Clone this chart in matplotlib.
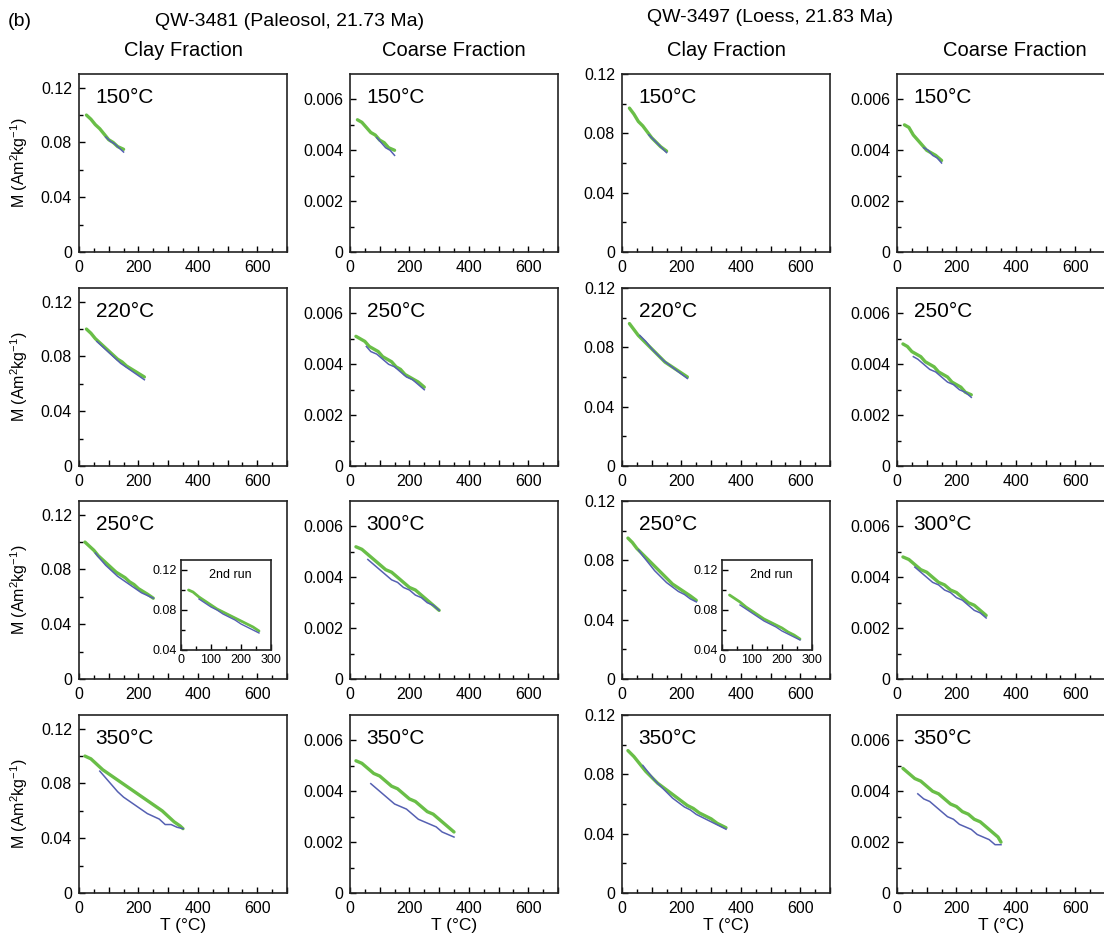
"""
Thermomagnetic M-T curves, clay vs coarse fraction, QW-3481 and QW-3497.
"""

import matplotlib

matplotlib.use("Agg")
import matplotlib.pyplot as plt

plt.rcParams["font.family"] = ["Liberation Sans", "DejaVu Sans"]
plt.rcParams["mathtext.fontset"] = "custom"
plt.rcParams["mathtext.rm"] = "Liberation Sans"
plt.rcParams["mathtext.it"] = "Liberation Sans"

GREEN = "#69be47"
BLUE = "#5560b2"

# temperature steps (degC), heating and cooling
T_H150 = [25, 40, 55, 70, 85, 100, 115, 130, 150]
T_C150 = [150, 135, 120, 105, 90]
T_H220 = [25, 40, 55, 70, 85, 100, 115, 130, 145, 160, 175, 190, 205, 220]
T_C220 = [220, 200, 180, 160, 140, 120, 100, 80, 60]
T_H250 = [20, 35, 50, 65, 80, 95, 110, 125, 140, 155, 170, 185, 200, 215, 230, 250]
T_C250 = [250, 230, 210, 190, 170, 150, 130, 110, 90, 70, 55]
T_H300 = [20, 40, 60, 80, 100, 120, 140, 160, 180, 200, 220, 240, 260, 280, 300]
T_C300 = [300, 280, 260, 240, 220, 200, 180, 160, 140, 120, 100, 80, 60]
T_H350 = [20, 40, 60, 80, 100, 120, 140, 160, 180, 200, 220, 240, 260, 280, 300, 320, 340, 350]
T_C350 = [350, 330, 310, 290, 270, 250, 230, 210, 190, 170, 150, 130, 110, 90, 70]
T_IH = [25, 40, 60, 80, 100, 120, 140, 160, 180, 200, 220, 240, 260]
T_IC = [260, 240, 220, 200, 180, 160, 140, 120, 100, 80, 60]

# QW-3481 clay fraction (Am2/kg)
A_CLAY_150_H = [0.100, 0.097, 0.093, 0.090, 0.086, 0.082, 0.080, 0.077, 0.075]
A_CLAY_150_C = [0.073, 0.076, 0.079, 0.081, 0.084]
A_CLAY_220_H = [0.100, 0.097, 0.093, 0.090, 0.087, 0.084, 0.081, 0.078, 0.076, 0.073, 0.071, 0.069, 0.067, 0.065]
A_CLAY_220_C = [0.063, 0.066, 0.069, 0.072, 0.075, 0.079, 0.083, 0.087, 0.091]
A_CLAY_250_H = [0.100, 0.097, 0.094, 0.090, 0.087, 0.084, 0.081, 0.078, 0.076, 0.074, 0.071, 0.069, 0.066, 0.064, 0.062, 0.059]
A_CLAY_250_C = [0.059, 0.061, 0.063, 0.066, 0.069, 0.072, 0.075, 0.079, 0.083, 0.088, 0.092]
A_CLAY_350_H = [0.100, 0.098, 0.094, 0.090, 0.087, 0.084, 0.081, 0.078, 0.075, 0.072, 0.069, 0.066, 0.063, 0.060, 0.056, 0.052, 0.049, 0.047]
A_CLAY_350_C = [0.047, 0.048, 0.050, 0.050, 0.054, 0.056, 0.058, 0.061, 0.064, 0.067, 0.070, 0.074, 0.079, 0.084, 0.089]
A_RUN2_H = [0.100, 0.098, 0.093, 0.089, 0.085, 0.081, 0.078, 0.075, 0.072, 0.069, 0.066, 0.063, 0.059]
A_RUN2_C = [0.057, 0.060, 0.063, 0.066, 0.070, 0.073, 0.076, 0.080, 0.083, 0.087, 0.091]

# QW-3481 coarse fraction
A_COARSE_150_H = [0.0052, 0.0051, 0.0049, 0.0047, 0.0046, 0.0044, 0.0043, 0.0041, 0.0040]
A_COARSE_150_C = [0.0038, 0.0040, 0.0041, 0.0043, 0.0045]
A_COARSE_250_H = [0.0051, 0.0050, 0.0049, 0.0047, 0.0046, 0.0045, 0.0043, 0.0042, 0.0041, 0.0039, 0.0038, 0.0036, 0.0035, 0.0034, 0.0033, 0.0031]
A_COARSE_250_C = [0.0030, 0.0032, 0.0034, 0.0035, 0.0037, 0.0039, 0.0040, 0.0042, 0.0044, 0.0045, 0.0047]
A_COARSE_300_H = [0.0052, 0.0051, 0.0049, 0.0047, 0.0045, 0.0043, 0.0042, 0.0040, 0.0038, 0.0036, 0.0035, 0.0033, 0.0031, 0.0029, 0.0027]
A_COARSE_300_C = [0.0027, 0.0029, 0.0030, 0.0032, 0.0033, 0.0035, 0.0036, 0.0038, 0.0039, 0.0041, 0.0043, 0.0045, 0.0047]
A_COARSE_350_H = [0.0052, 0.0051, 0.0049, 0.0047, 0.0046, 0.0044, 0.0042, 0.0041, 0.0039, 0.0037, 0.0036, 0.0034, 0.0032, 0.0031, 0.0029, 0.0027, 0.0025, 0.0024]
A_COARSE_350_C = [0.0022, 0.0023, 0.0024, 0.0026, 0.0027, 0.0028, 0.0029, 0.0031, 0.0033, 0.0034, 0.0035, 0.0037, 0.0039, 0.0041, 0.0043]

# QW-3497 clay fraction
B_CLAY_150_H = [0.097, 0.093, 0.088, 0.085, 0.081, 0.077, 0.074, 0.071, 0.068]
B_CLAY_150_C = [0.067, 0.070, 0.073, 0.076, 0.079]
B_CLAY_220_H = [0.096, 0.092, 0.088, 0.085, 0.082, 0.079, 0.076, 0.073, 0.070, 0.068, 0.066, 0.064, 0.062, 0.060]
B_CLAY_220_C = [0.059, 0.062, 0.065, 0.068, 0.071, 0.075, 0.079, 0.084, 0.088]
B_CLAY_250_H = [0.095, 0.092, 0.088, 0.085, 0.082, 0.079, 0.076, 0.073, 0.070, 0.067, 0.064, 0.062, 0.060, 0.058, 0.056, 0.053]
B_CLAY_250_C = [0.052, 0.054, 0.057, 0.059, 0.062, 0.065, 0.069, 0.073, 0.078, 0.083, 0.087]
B_CLAY_350_H = [0.096, 0.092, 0.087, 0.082, 0.078, 0.074, 0.071, 0.068, 0.065, 0.062, 0.059, 0.057, 0.054, 0.052, 0.050, 0.047, 0.045, 0.044]
B_CLAY_350_C = [0.043, 0.045, 0.047, 0.049, 0.051, 0.053, 0.056, 0.058, 0.061, 0.064, 0.068, 0.072, 0.076, 0.081, 0.086]
B_RUN2_H = [0.095, 0.092, 0.088, 0.083, 0.079, 0.075, 0.071, 0.068, 0.065, 0.062, 0.058, 0.055, 0.051]
B_RUN2_C = [0.050, 0.053, 0.056, 0.059, 0.063, 0.066, 0.069, 0.073, 0.077, 0.081, 0.085]

# QW-3497 coarse fraction
B_COARSE_150_H = [0.0050, 0.0049, 0.0046, 0.0044, 0.0042, 0.0040, 0.0039, 0.0038, 0.0036]
B_COARSE_150_C = [0.0035, 0.0037, 0.0038, 0.0040, 0.0041]
B_COARSE_250_H = [0.0048, 0.0047, 0.0045, 0.0044, 0.0043, 0.0041, 0.0040, 0.0039, 0.0037, 0.0036, 0.0035, 0.0033, 0.0032, 0.0031, 0.0029, 0.0028]
B_COARSE_250_C = [0.0027, 0.0029, 0.0030, 0.0032, 0.0033, 0.0035, 0.0037, 0.0038, 0.0040, 0.0042, 0.0043]
B_COARSE_300_H = [0.0048, 0.0047, 0.0045, 0.0043, 0.0042, 0.0040, 0.0038, 0.0037, 0.0035, 0.0034, 0.0032, 0.0030, 0.0029, 0.0027, 0.0025]
B_COARSE_300_C = [0.0024, 0.0026, 0.0027, 0.0029, 0.0031, 0.0032, 0.0034, 0.0035, 0.0037, 0.0038, 0.0040, 0.0042, 0.0044]
B_COARSE_350_H = [0.0049, 0.0047, 0.0045, 0.0044, 0.0042, 0.0040, 0.0039, 0.0037, 0.0035, 0.0034, 0.0032, 0.0031, 0.0029, 0.0028, 0.0026, 0.0024, 0.0022, 0.0020]
B_COARSE_350_C = [0.0019, 0.0019, 0.0021, 0.0022, 0.0023, 0.0025, 0.0026, 0.0027, 0.0029, 0.0030, 0.0032, 0.0034, 0.0036, 0.0037, 0.0039]

CLAY_TICKS = [0, 0.04, 0.08, 0.12]
CLAY_LABELS = ["0", "0.04", "0.08", "0.12"]
COARSE_TICKS = [0, 0.002, 0.004, 0.006]
COARSE_LABELS = ["0", "0.002", "0.004", "0.006"]
T_TICKS = [0, 200, 400, 600]

W, H = 1104, 939
COL_LEFT = [79, 350, 622, 897]
ROW_TOP = [74, 288, 501, 715]
PANEL_W, PANEL_H = 208, 178


def px_axes(fig, left, top, w, h):
    return fig.add_axes([left / W, 1 - (top + h) / H, w / W, h / H])


def finish_spines(ax):
    for sp in ax.spines.values():
        sp.set_linewidth(1.2)
        sp.set_color("#222222")


def style_panel(ax, yticks, ylabels, ymax, yminor):
    ax.set_xlim(0, 700)
    ax.set_ylim(0, ymax)
    major = list(range(0, 701, 100))
    ax.set_xticks(major)
    ax.set_xticklabels([str(t) if t in T_TICKS else "" for t in major])
    ax.set_xticks(list(range(50, 700, 100)), minor=True)
    ax.set_yticks(yticks)
    ax.set_yticklabels(ylabels)
    ax.set_yticks(yminor, minor=True)
    ax.tick_params(which="both", direction="in", labelsize=11.5, width=1.0)
    ax.tick_params(axis="x", pad=6)
    ax.tick_params(axis="y", pad=5)
    ax.tick_params(which="major", length=4)
    ax.tick_params(which="minor", length=3)
    finish_spines(ax)


def draw(ax, th, mh, tc, mc, lw_g=2.4, lw_b=1.1):
    ax.plot(th, mh, color=GREEN, lw=lw_g, solid_capstyle="round")
    ax.plot(tc, mc, color=BLUE, lw=lw_b)


fig = plt.figure(figsize=(W / 100, H / 100), dpi=100)

panels = [
    [("150", T_H150, A_CLAY_150_H, T_C150, A_CLAY_150_C),
     ("150", T_H150, A_COARSE_150_H, T_C150, A_COARSE_150_C),
     ("150", T_H150, B_CLAY_150_H, T_C150, B_CLAY_150_C),
     ("150", T_H150, B_COARSE_150_H, T_C150, B_COARSE_150_C)],
    [("220", T_H220, A_CLAY_220_H, T_C220, A_CLAY_220_C),
     ("250", T_H250, A_COARSE_250_H, T_C250, A_COARSE_250_C),
     ("220", T_H220, B_CLAY_220_H, T_C220, B_CLAY_220_C),
     ("250", T_H250, B_COARSE_250_H, T_C250, B_COARSE_250_C)],
    [("250", T_H250, A_CLAY_250_H, T_C250, A_CLAY_250_C),
     ("300", T_H300, A_COARSE_300_H, T_C300, A_COARSE_300_C),
     ("250", T_H250, B_CLAY_250_H, T_C250, B_CLAY_250_C),
     ("300", T_H300, B_COARSE_300_H, T_C300, B_COARSE_300_C)],
    [("350", T_H350, A_CLAY_350_H, T_C350, A_CLAY_350_C),
     ("350", T_H350, A_COARSE_350_H, T_C350, A_COARSE_350_C),
     ("350", T_H350, B_CLAY_350_H, T_C350, B_CLAY_350_C),
     ("350", T_H350, B_COARSE_350_H, T_C350, B_COARSE_350_C)],
]

for r, row in enumerate(panels):
    for c, (label, th, mh, tc, mc) in enumerate(row):
        ax = px_axes(fig, COL_LEFT[c], ROW_TOP[r], PANEL_W, PANEL_H)
        if c == 0:
            style_panel(ax, CLAY_TICKS, CLAY_LABELS, 0.13, [0.02, 0.06, 0.10])
        elif c == 2:
            style_panel(ax, CLAY_TICKS, CLAY_LABELS, 0.12, [0.02, 0.06, 0.10])
        else:
            style_panel(ax, COARSE_TICKS, COARSE_LABELS, 0.007, [0.001, 0.003, 0.005])
        draw(ax, th, mh, tc, mc)
        ax.text(0.08, 0.87, f"{label}\u00b0C", transform=ax.transAxes,
                fontsize=15, ha="left", va="center")
        if c == 0:
            ax.set_ylabel("M (Am$^{2}$kg$^{-1}$)", fontsize=11.5)
            ax.yaxis.set_label_coords(-0.235, 0.5)
        if r == 3:
            ax.set_xlabel("T (\u00b0C)", fontsize=12.5, labelpad=1)

# 2nd run insets
for left, th, mh, tc, mc in [(181, T_IH, A_RUN2_H, T_IC, A_RUN2_C),
                             (722, T_IH, B_RUN2_H, T_IC, B_RUN2_C)]:
    ins = px_axes(fig, left, 560, 90, 90)
    ins.set_xlim(0, 300)
    ins.set_ylim(0.04, 0.13)
    ins.set_xticks([0, 100, 200, 300])
    ins.set_xticklabels(["0", "100", "200", "300"])
    ins.set_xticks([50, 150, 250], minor=True)
    ins.set_yticks([0.04, 0.08, 0.12])
    ins.set_yticklabels(["0.04", "0.08", "0.12"])
    ins.set_yticks([0.06, 0.10], minor=True)
    ins.tick_params(which="both", direction="in", labelsize=9, pad=3, width=1.0)
    ins.tick_params(which="major", length=4)
    ins.tick_params(which="minor", length=3)
    finish_spines(ins)
    draw(ins, th, mh, tc, mc, lw_g=2.0, lw_b=1.0)
    ins.text(0.55, 0.83, "2nd run", transform=ins.transAxes, fontsize=9, ha="center", va="center")

# headers
fig.text(8 / W, 1 - 22 / H, "(b)", fontsize=14, ha="left", va="center")
fig.text(290 / W, 1 - 21 / H, "QW-3481 (Paleosol, 21.73 Ma)", fontsize=14, ha="center", va="center")
fig.text(770 / W, 1 - 17 / H, "QW-3497 (Loess, 21.83 Ma)", fontsize=14, ha="center", va="center")
for x, txt in [(183, "Clay Fraction"), (454, "Coarse Fraction"),
               (726, "Clay Fraction"), (1015, "Coarse Fraction")]:
    fig.text(x / W, 1 - 51 / H, txt, fontsize=14.5, ha="center", va="center")

fig.savefig("out.png", dpi=100)
